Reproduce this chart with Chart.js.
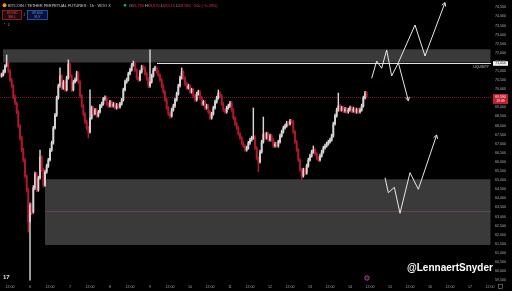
<!DOCTYPE html>
<html><head><meta charset="utf-8">
<script src="https://cdn.jsdelivr.net/npm/chart.js@4.4.1/dist/chart.umd.min.js"></script>
<style>html,body{margin:0;padding:0;background:#000;overflow:hidden}#wrap{width:512px;height:291px;position:relative}canvas{display:block}</style>
</head><body><div id="wrap"><canvas id="c" width="512" height="291"></canvas></div>
<script>
// ---- data (1h candles, hour 0 = day 6 00:00) ----
const firstHour = -18;
const firstDay = 6;
const open = [
70800,70730,70780,70950,71280,71440,71000,70510,70180,69570,
69240,68750,67980,67320,66660,66110,65230,64460,62700,63630,
63250,64570,65340,64460,65120,66270,65560,64730,65450,65780,
66110,66660,67040,67870,68580,69520,70180,70730,70070,70400,
69960,70620,71390,70730,69960,70400,70510,70890,70400,69630,
69080,68640,68200,67870,67650,68420,68970,68640,68860,68530,
68750,69080,69190,69460,69520,69190,69080,69300,69080,69190,
68970,69130,69020,69190,69410,69960,70400,70510,70840,71060,
71330,71440,71060,70620,70510,70950,71220,71170,70840,70560,
70180,70400,70730,71060,71170,70950,70780,70510,70180,69850,
69410,68970,68640,68530,68860,69080,69410,69740,70180,70620,
70950,70620,70290,70070,70180,69850,69960,69630,69410,69740,
69850,69520,69190,69300,68970,69080,68750,68420,68640,68970,
69300,69520,69790,69630,69190,68860,68750,68970,69080,69240,
68860,68420,68090,67870,67540,67320,67040,66880,66660,66770,
67040,67210,67320,67370,66770,66220,66000,66550,67100,67540,
67320,67540,67210,67430,67210,66880,66990,66880,67100,67430,
67650,67870,67980,68140,68090,68250,68200,67650,67100,66660,
66110,65560,65230,65560,65390,65780,66110,66330,66550,66660,
66440,66220,66110,66330,66550,66770,66880,66990,67100,67210,
67430,68090,68530,68860,69080,68860,68970,68800,68910,68750,
68860,68970,68800,68910,68750,68860,68750,68860,69080,69520,
69790];
const close = [
70730,70780,70950,71280,71440,71000,70510,70180,69570,69240,
68750,67980,67320,66660,66110,65230,64460,62700,63630,63250,
64570,65340,64460,65120,66270,65560,64730,65450,65780,66110,
66660,67040,67870,68580,69520,70180,70730,70070,70400,69960,
70620,71390,70730,69960,70400,70510,70890,70400,69630,69080,
68640,68200,67870,67650,68420,68970,68640,68860,68530,68750,
69080,69190,69460,69520,69190,69080,69300,69080,69190,68970,
69130,69020,69190,69410,69960,70400,70510,70840,71060,71330,
71440,71060,70620,70510,70950,71220,71170,70840,70560,70180,
70400,70730,71060,71170,70950,70780,70510,70180,69850,69410,
68970,68640,68530,68860,69080,69410,69740,70180,70620,70950,
70620,70290,70070,70180,69850,69960,69630,69410,69740,69850,
69520,69190,69300,68970,69080,68750,68420,68640,68970,69300,
69520,69790,69630,69190,68860,68750,68970,69080,69240,68860,
68420,68090,67870,67540,67320,67040,66880,66660,66770,67040,
67210,67320,67370,66770,66220,66000,66550,67100,67540,67320,
67540,67210,67430,67210,66880,66990,66880,67100,67430,67650,
67870,67980,68140,68090,68250,68200,67650,67100,66660,66110,
65560,65230,65560,65390,65780,66110,66330,66550,66660,66440,
66220,66110,66330,66550,66770,66880,66990,67100,67210,67430,
68090,68530,68860,69080,68860,68970,68800,68910,68750,68860,
68970,68800,68910,68750,68860,68750,68860,69080,69520,69790,
69590];
const high = [
70900,70880,71060,71350,71880,71500,71080,70600,70250,69680,
69300,68820,68060,67400,66760,66200,65300,64550,63750,63720,
64700,65450,65420,65220,66660,66350,65640,65550,65880,66200,
66750,67150,67960,68680,69620,70280,71170,70800,70500,70480,
70720,71610,71450,70800,70500,70620,70990,70960,70480,69700,
69150,68720,68290,67960,69960,69080,69040,68950,68940,68840,
69170,69290,69550,69640,69600,69260,69390,69370,69280,69260,
69220,69200,69280,69500,70060,70500,70610,70940,71160,71420,
71550,71500,71130,70700,71050,71320,71300,71240,70920,70640,
72160,70830,71160,71270,71240,71020,70850,70590,70260,69920,
69490,69050,68720,68960,69180,69500,69840,70280,70720,71170,
71020,70700,70370,70280,70260,70060,70040,69710,69840,69950,
69930,69600,69400,69380,69180,69160,68830,68740,69070,69400,
69620,69960,69870,69710,69270,68940,69070,69180,69340,69320,
68940,68500,68170,67950,67620,67400,67120,66960,66870,67140,
67310,67420,68970,67450,66850,66300,66650,67200,68470,67620,
67640,67620,67530,67510,67290,67090,67070,67200,67530,67750,
67970,68080,68240,68220,68350,68330,68280,67730,67180,66740,
66190,65640,65660,65640,65880,66210,66430,66650,66880,66740,
66520,66300,66430,66650,66870,66980,67090,67200,67310,67530,
68190,68630,68960,69790,69160,69070,69050,69010,68990,68960,
69070,69050,69010,68990,68960,68940,68960,69180,69620,69890,
69870];
const low = [
70650,70660,70720,70900,71220,70920,70430,70100,69480,69150,
68650,67900,67200,66550,66000,65120,64350,62150,59500,63100,
63180,64480,64380,64380,65050,65480,64620,64650,65380,65700,
66040,66580,66980,67800,68500,69450,70100,69980,69990,69880,
69900,70550,70650,69880,69900,70330,70440,70320,69550,69000,
68550,68110,67780,67320,67580,68350,68560,68580,68450,68470,
68680,69000,69120,69380,69110,69000,69010,69000,69010,68900,
68900,68950,68960,69120,69350,69900,70330,70450,70780,70990,
71260,70980,70540,70430,70450,70880,71090,70760,70480,70100,
70100,70330,70660,71000,70880,70700,70430,70100,69770,69330,
68890,68560,68400,68460,68790,69000,69340,69670,70110,70550,
70540,70210,69990,70000,69770,69780,69550,69330,69340,69670,
69440,69110,69110,68890,68900,68670,68340,68350,68570,68900,
69230,69450,69550,69110,68780,68670,68680,68900,69000,68780,
68340,68010,67790,67460,67240,66960,66800,66580,66590,66700,
66970,67140,67250,66690,66140,65450,65930,66480,67030,67240,
67250,67130,67140,67130,66800,66810,66800,66810,67030,67360,
67580,67800,67910,68010,68020,68120,67570,67020,66580,66030,
65480,65010,65160,65310,65320,65710,66040,66260,66480,66360,
66140,66030,66040,66260,66480,66700,66810,66920,67030,67140,
67360,68020,68460,68790,68780,68790,68720,68730,68670,68680,
68790,68720,68730,68670,68680,68670,68680,68790,69010,69450,
69510];

// ---- tick labels ----
const yTicks = [59500,60000,60500,61000,61500,62000,62500,63000,63500,64000,64500,65000,65500,66000,66500,
  67000,67500,68000,68500,69000,69500,70000,70500,71000,71500,72000,72500,73000,73500,74000,74500];
const xTicks = [-12,0,12,24,36,48,60,72,84,96,108,120,132,144,156,168,180,192,204,216,228,240,252,264,276];

// ---- annotations (hour, price) ----
const upperZone = {from: -16.2, top: 72194, bottom: 71469};
const lowerZone = {from: 9, top: 65047, bottom: 61435, mid: 63304};
const liquidity = {from: 76.2, price: 71414, label: "LIQUIDITY"};
const pathDown = [[205,70600],[208,71551],[211,71150],[214,72156],[217,70727],[221,71458],[227,69369]];
const pathUp   = [[221,71458],[231,73530],[237,71826],[249,74757]];
const pathLow  = [[213,65135],[215,64310],[218.6,64607],[222,63178],[228,65410],[233,64497],[244,67483]];
const titleText = "BITCOIN / TETHER PERPETUAL FUTURES · 1h · WOO X";
const watermark = "@LennaertSnyder";

// ---- build ----
const n = close.length;
const wickData = [], bodyData = [];
for (let i = 0; i < n; i++) {
  const h = firstHour + i;
  wickData.push({x: h, y: [low[i], high[i]]});
  bodyData.push({x: h, y: [open[i], close[i]]});
}
const UP = '#d6d6d6', DOWN = '#b0182e';
const isUp = i => close[i] >= open[i];
const fmt = v => Math.round(v).toLocaleString('en-US');
const toPts = p => p.map(([x, y]) => ({x, y}));
const arrowDs = p => ({type: 'line', data: toPts(p), borderColor: '#e8e8e8', borderWidth: 1,
  pointRadius: 0, fill: false, tension: 0, order: 0, isArrow: true, clip: false});

Chart.defaults.font.family = '"Liberation Sans", Arial, sans-serif';

const decor = {
  id: 'decor',
  beforeDraw(c) {
    const ctx = c.ctx; ctx.save(); ctx.fillStyle = '#000'; ctx.fillRect(0, 0, c.width, c.height); ctx.restore();
  },
  beforeDatasetsDraw(c) {
    const ctx = c.ctx, x = c.scales.x, y = c.scales.y, a = c.chartArea;
    ctx.save();
    ctx.beginPath(); ctx.rect(a.left, a.top, a.right - a.left, a.bottom - a.top); ctx.clip();
    ctx.fillStyle = '#3a3a3a';
    [upperZone, lowerZone].forEach(z => {
      const x0 = x.getPixelForValue(z.from), y0 = y.getPixelForValue(z.top), y1 = y.getPixelForValue(z.bottom);
      ctx.fillRect(x0, y0, a.right - 0.5 - x0, y1 - y0);
    });
    ctx.strokeStyle = 'rgba(150,100,150,0.35)'; ctx.lineWidth = 1;
    const ym = Math.round(y.getPixelForValue(lowerZone.mid)) + 0.5;
    ctx.beginPath(); ctx.moveTo(x.getPixelForValue(lowerZone.from), ym); ctx.lineTo(a.right, ym); ctx.stroke();
    const yl = Math.round(y.getPixelForValue(liquidity.price)) + 0.5;
    ctx.strokeStyle = '#e0e0e0';
    ctx.beginPath(); ctx.moveTo(x.getPixelForValue(liquidity.from), yl); ctx.lineTo(a.right, yl); ctx.stroke();
    ctx.fillStyle = '#d0d0d0'; ctx.font = '3.2px "Liberation Sans"'; ctx.textAlign = 'right'; ctx.textBaseline = 'alphabetic';
    ctx.fillText(liquidity.label, a.right - 2, yl + 4.5);
    const yp = Math.round(y.getPixelForValue(close[n - 1])) + 0.5;
    ctx.strokeStyle = 'rgba(170,25,45,0.75)'; ctx.setLineDash([1, 1]);
    ctx.beginPath(); ctx.moveTo(a.left, yp); ctx.lineTo(a.right, yp); ctx.stroke();
    ctx.restore();
  },
  afterDatasetsDraw(c) {
    const ctx = c.ctx;
    ctx.save();
    ctx.strokeStyle = '#e8e8e8'; ctx.lineWidth = 1;
    c.data.datasets.forEach((ds, i) => {
      if (!ds.isArrow) return;
      const pts = c.getDatasetMeta(i).data;
      const p = pts[pts.length - 1], q = pts[pts.length - 2];
      const ang = Math.atan2(p.y - q.y, p.x - q.x), L = 4;
      ctx.beginPath();
      ctx.moveTo(p.x - L * Math.cos(ang - 0.55), p.y - L * Math.sin(ang - 0.55));
      ctx.lineTo(p.x, p.y);
      ctx.lineTo(p.x - L * Math.cos(ang + 0.55), p.y - L * Math.sin(ang + 0.55));
      ctx.stroke();
    });
    ctx.restore();
  },
  afterDraw(c) {
    const ctx = c.ctx, y = c.scales.y;
    ctx.save();
    const yp = y.getPixelForValue(close[n - 1]);
    ctx.fillStyle = '#c21f30'; ctx.fillRect(493, yp - 2.7, 15, 10);
    ctx.fillStyle = '#fff'; ctx.font = '3.4px "Liberation Sans"'; ctx.textAlign = 'center'; ctx.textBaseline = 'middle';
    ctx.fillText(fmt(close[n - 1]), 500.5, yp);
    ctx.fillText('19:09', 500.5, yp + 4.3);
    const yl = y.getPixelForValue(liquidity.price);
    ctx.fillStyle = '#efefef'; ctx.fillRect(493, yl - 2.3, 15, 4.6);
    ctx.fillStyle = '#111'; ctx.fillText(fmt(liquidity.price), 500.5, yl);
    ctx.textAlign = 'left'; ctx.textBaseline = 'alphabetic';
    ctx.fillStyle = '#f7931a'; ctx.beginPath(); ctx.arc(4.5, 5.2, 2, 0, Math.PI * 2); ctx.fill();
    ctx.font = '3.9px "Liberation Sans"'; ctx.fillStyle = '#cfcfcf';
    ctx.fillText(titleText, 8, 6.8);
    ctx.fillStyle = '#22ab94'; ctx.beginPath(); ctx.arc(125, 5.3, 1.3, 0, Math.PI * 2); ctx.fill();
    const o = open[n - 1], h = high[n - 1], l = low[n - 1], cl = close[n - 1], ch = cl - o;
    const red = '#e0344a', gray = '#bdbdbd';
    const parts = [['O', gray], [fmt(o), red], [' H', gray], [fmt(h), red], [' L', gray], [fmt(l), red], [' C', gray], [fmt(cl), red],
      [' ' + (ch < 0 ? '−' : '+') + fmt(Math.abs(ch)) + ' (' + (ch < 0 ? '−' : '+') + (Math.abs(ch) / o * 100).toFixed(2) + '%)', red]];
    let px = 129;
    parts.forEach(([t, col]) => { ctx.fillStyle = col; ctx.fillText(t, px, 6.8); px += ctx.measureText(t).width; });
    ctx.lineWidth = 0.8;
    ctx.fillStyle = '#200a0e'; ctx.fillRect(2.5, 10.5, 19, 9); ctx.strokeStyle = '#a82234'; ctx.strokeRect(2.5, 10.5, 19, 9);
    ctx.fillStyle = '#0b1230'; ctx.fillRect(27.5, 10.5, 20, 9); ctx.strokeStyle = '#2e5bd6'; ctx.strokeRect(27.5, 10.5, 20, 9);
    ctx.textAlign = 'center'; ctx.font = '3.5px "Liberation Sans"';
    ctx.fillStyle = '#ef5060'; ctx.fillText(fmt(cl), 12, 14.4); ctx.font = '3px "Liberation Sans"'; ctx.fillText('SELL', 12, 18.2);
    ctx.font = '3.5px "Liberation Sans"'; ctx.fillStyle = '#5b8cff'; ctx.fillText(fmt(cl + 10), 37.5, 14.4);
    ctx.font = '3px "Liberation Sans"'; ctx.fillText('BUY', 37.5, 18.2);
    ctx.fillStyle = '#9a9a9a'; ctx.font = '3.4px "Liberation Sans"'; ctx.fillText('2', 24.5, 16);
    ctx.textAlign = 'left'; ctx.font = '3.8px "DejaVu Sans"'; ctx.fillStyle = '#9a9a9a'; ctx.fillText('⌃ 2', 3, 25.5);
    ctx.font = 'bold 10px "Liberation Sans"'; ctx.fillStyle = '#ffffff'; ctx.fillText(watermark, 407, 271);
    ctx.font = 'bold 6px "Liberation Sans"'; ctx.fillStyle = '#e0e0e0'; ctx.fillText('17', 3, 278.5);
    ctx.fillStyle = '#3a1530'; ctx.strokeStyle = '#b04a9a'; ctx.lineWidth = 0.8;
    ctx.beginPath(); ctx.arc(367, 278, 2.3, 0, Math.PI * 2); ctx.fill(); ctx.stroke();
    ctx.strokeStyle = '#8a8a8a'; ctx.lineWidth = 0.6; ctx.strokeRect(498.5, 284.5, 4, 4);
    ctx.restore();
  }
};

new Chart(document.getElementById('c'), {
  type: 'bar',
  data: {
    datasets: [
      {label: 'wick', data: wickData, barThickness: 0.8, grouped: false, order: 3,
        backgroundColor: ctx => isUp(ctx.dataIndex) ? UP : DOWN, borderWidth: 0},
      {label: 'body', data: bodyData, barThickness: 1.2, grouped: false, order: 2, minBarLength: 1,
        backgroundColor: ctx => isUp(ctx.dataIndex) ? UP : DOWN, borderWidth: 0},
      arrowDs(pathDown), arrowDs(pathUp), arrowDs(pathLow)
    ]
  },
  options: {
    responsive: false, animation: false, devicePixelRatio: 1,
    layout: {padding: {top: 1, left: 0, right: 0, bottom: 0}},
    plugins: {legend: {display: false}, tooltip: {enabled: false}},
    scales: {
      x: {
        type: 'linear', position: 'bottom', min: -18, max: 276.6, offset: false,
        grid: {display: false, drawTicks: false}, border: {display: false},
        ticks: {display: true, autoSkip: false, maxRotation: 0, padding: 3,
          color: '#a3a3a3', font: {size: 3.6},
          callback: v => (((v % 24) + 24) % 24 === 0 ? String(firstDay + v / 24) : '12:00')},
        afterBuildTicks: s => { s.ticks = xTicks.map(v => ({value: v})); },
        afterFit: s => { s.height = 9; s.paddingLeft = 0; s.paddingRight = 0; }
      },
      y: {
        type: 'linear', position: 'right', min: 59400, max: 74850,
        grid: {display: false, drawTicks: false}, border: {display: false},
        ticks: {display: true, autoSkip: false, padding: 4, crossAlign: 'near',
          color: '#b0b0b0', font: {size: 3.6}, callback: v => fmt(v)},
        afterBuildTicks: s => { s.ticks = yTicks.map(v => ({value: v})); },
        afterFit: s => { s.width = 21; s.paddingTop = 0; s.paddingBottom = 0; }
      }
    }
  },
  plugins: [decor]
});
</script>
</body></html>
